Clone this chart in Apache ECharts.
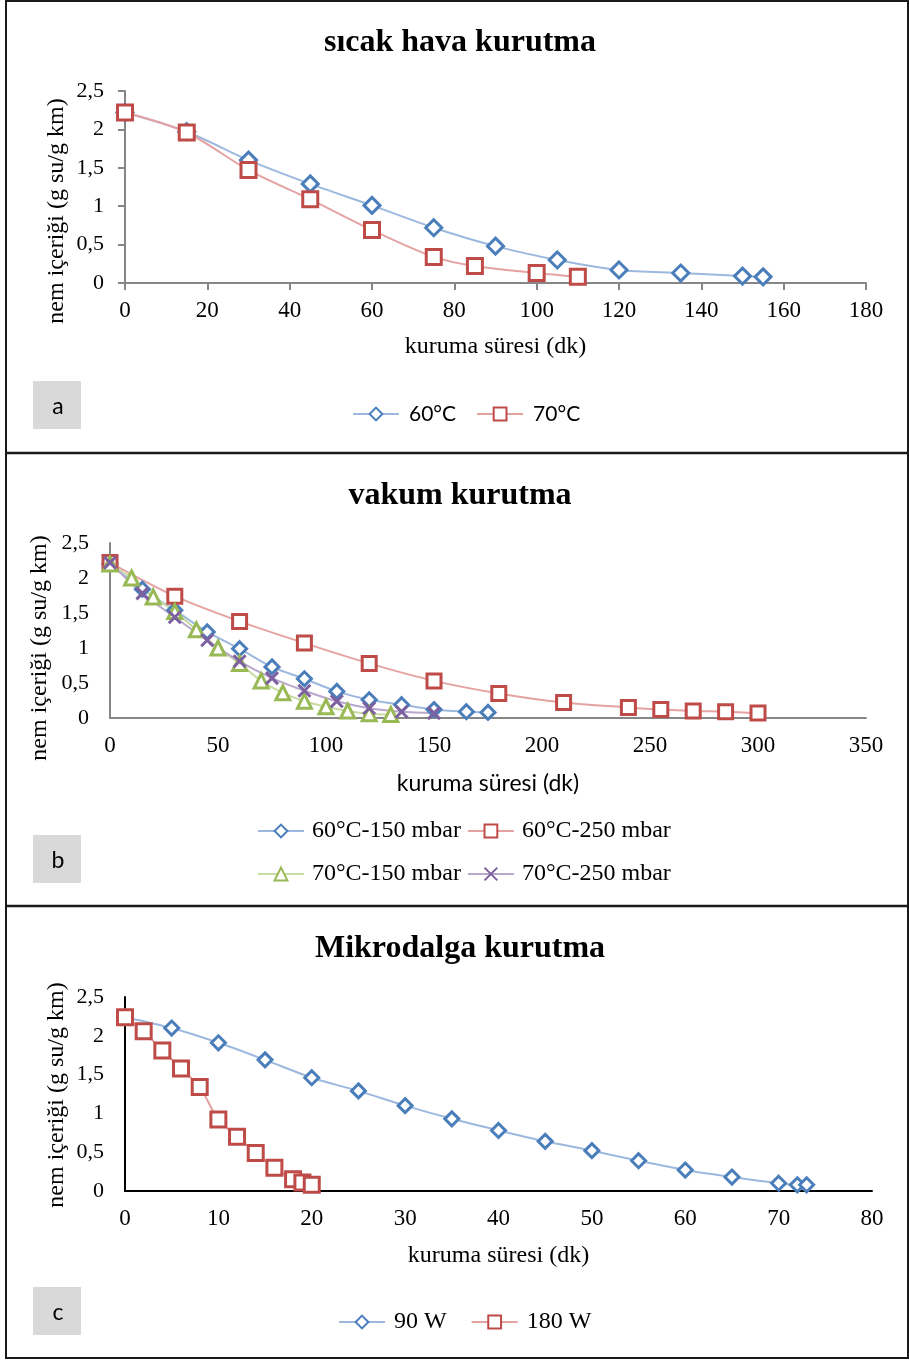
<!DOCTYPE html>
<html>
<head>
<meta charset="utf-8">
<script src="https://cdn.jsdelivr.net/npm/echarts@6/dist/echarts.min.js"></script>
<style>
html,body{margin:0;padding:0;background:#fff;}
#c{width:909px;height:1360px;}
</style>
</head>
<body>
<div id="c"></div>
<script>
// ---- Data ----
const titles = ['sıcak hava kurutma', 'vakum kurutma', 'Mikrodalga kurutma'];
const panelLetters = ['a', 'b', 'c'];
const xName = 'kuruma süresi (dk)';
const yName = 'nem içeriği (g su/g km)';

// Panel a: sıcak hava
const aX60 = [0, 15, 30, 45, 60, 75, 90, 105, 120, 135, 150, 155];
const aY60 = [2.22, 1.97, 1.60, 1.29, 1.01, 0.72, 0.48, 0.30, 0.17, 0.13, 0.09, 0.08];
const aX70 = [0, 15, 30, 45, 60, 75, 85, 100, 110];
const aY70 = [2.22, 1.96, 1.47, 1.09, 0.69, 0.34, 0.22, 0.13, 0.08];

// Panel b: vakum
const bX60_150 = [0, 15, 30, 45, 60, 75, 90, 105, 120, 135, 150, 165, 175];
const bY60_150 = [2.20, 1.84, 1.54, 1.23, 0.99, 0.73, 0.56, 0.38, 0.26, 0.19, 0.12, 0.09, 0.08];
const bX60_250 = [0, 30, 60, 90, 120, 150, 180, 210, 240, 255, 270, 285, 300];
const bY60_250 = [2.22, 1.74, 1.38, 1.07, 0.78, 0.53, 0.35, 0.22, 0.15, 0.12, 0.10, 0.09, 0.07];
const bX70_150 = [0, 10, 20, 30, 40, 50, 60, 70, 80, 90, 100, 110, 120, 130];
const bY70_150 = [2.20, 2.00, 1.73, 1.52, 1.26, 1.00, 0.78, 0.53, 0.36, 0.24, 0.16, 0.10, 0.06, 0.05];
const bX70_250 = [0, 15, 30, 45, 60, 75, 90, 105, 120, 135, 150];
const bY70_250 = [2.22, 1.78, 1.44, 1.11, 0.81, 0.57, 0.39, 0.24, 0.14, 0.09, 0.07];

// Panel c: mikrodalga
const cX90 = [0, 5, 10, 15, 20, 25, 30, 35, 40, 45, 50, 55, 60, 65, 70, 72, 73];
const cY90 = [2.24, 2.10, 1.91, 1.69, 1.46, 1.29, 1.10, 0.93, 0.78, 0.64, 0.52, 0.39, 0.27, 0.18, 0.10, 0.08, 0.08];
const cX180 = [0, 2, 4, 6, 8, 10, 12, 14, 16, 18, 19, 20];
const cY180 = [2.24, 2.06, 1.81, 1.58, 1.34, 0.92, 0.70, 0.49, 0.30, 0.15, 0.11, 0.08];

const xMax = [180, 350, 80];
const xStep = [20, 50, 10];
const yMax = 2.5, yStep = 0.5;

// ---- Styles ----
const SERIF = '"Liberation Serif", "DejaVu Serif", serif';
const SANS = 'Lato, "Open Sans", sans-serif';
const C = {
  blue: {line: '#9DB8DF', mark: '#4A7EBB'},
  red: {line: '#E4A3A2', mark: '#BE4B48'},
  green: {line: '#C8DBA2', mark: '#98B954'},
  purple: {line: '#B8A8CE', mark: '#7D60A0'}
};
const XPATH = 'path://M2,2L18,18M18,2L2,18';

function zip(xs, ys) { return xs.map((x, i) => [x, ys[i]]); }
function ser(name, xs, ys, idx, col, symbol, size) {
  return {
    name: name, type: 'line', xAxisIndex: idx, yAxisIndex: idx,
    data: zip(xs, ys), smooth: 0.3,
    symbol: symbol, symbolSize: size, showAllSymbol: true,
    lineStyle: {color: col.line, width: 2},
    itemStyle: {color: '#fff', borderColor: col.mark, borderWidth: 3},
    emphasis: {disabled: true}, animation: false, z: 2
  };
}

const grids = [
  {left: 125, right: 43, top: 91, height: 192},
  {left: 110, right: 43, top: 543, height: 175},
  {left: 125, right: 37, top: 997, height: 194}
].map(g => Object.assign({outerBoundsMode: 'none', containLabel: false}, g));

const axisCol = ['#868686', '#868686', '#000000'];
const xAxes = [0, 1, 2].map(i => ({
  type: 'value', gridIndex: i, min: 0, max: xMax[i], interval: xStep[i],
  name: xName, nameLocation: 'middle', nameGap: [52, 54, 53][i],
  nameTextStyle: {fontFamily: i === 1 ? SANS : SERIF, fontSize: i === 1 ? 23 : 24, color: '#000'},
  axisLine: {show: true, lineStyle: {color: axisCol[i], width: 2}},
  axisTick: {show: i === 0, length: 7, lineStyle: {color: axisCol[i], width: 2}},
  splitLine: {show: false},
  axisLabel: {margin: 16, fontFamily: SERIF, fontSize: 23, color: '#000'}
}));
const yAxes = [0, 1, 2].map(i => ({
  type: 'value', gridIndex: i, min: 0, max: yMax, interval: yStep,
  axisLine: {show: true, lineStyle: {color: axisCol[i], width: 2}},
  axisTick: {show: i === 0, length: 7, lineStyle: {color: axisCol[i], width: 2}},
  splitLine: {show: false},
  axisLabel: {margin: 21, fontFamily: SERIF, fontSize: 22, color: '#000',
    formatter: v => String(v).replace('.', ',')}
}));

const series = [
  ser('60°C', aX60, aY60, 0, C.blue, 'diamond', 16),
  ser('70°C', aX70, aY70, 0, C.red, 'rect', 15),
  ser('60°C-150 mbar', bX60_150, bY60_150, 1, C.blue, 'diamond', 14),
  ser('60°C-250 mbar', bX60_250, bY60_250, 1, C.red, 'rect', 14),
  ser('70°C-150 mbar', bX70_150, bY70_150, 1, C.green, 'triangle', 14),
  ser('70°C-250 mbar', bX70_250, bY70_250, 1, C.purple, XPATH, 12),
  ser('90 W', cX90, cY90, 2, C.blue, 'diamond', 14),
  ser('180 W', cX180, cY180, 2, C.red, 'rect', 15)
];

function legend(names, left, top, font, fs, gap, textPad) {
  return {
    data: names, left: left, top: top, orient: 'horizontal', padding: 0,
    itemWidth: 46, itemHeight: 16, itemGap: gap,
    selectedMode: false,
    textStyle: {fontFamily: font, fontSize: fs, lineHeight: 24, color: '#000', padding: [0, 0, 0, textPad]}
  };
}

const titleTops = [27, 480, 933];
const titleComps = titles.map((t, i) => ({
  text: t, left: 460, textAlign: 'center', top: titleTops[i], padding: 0,
  textStyle: {fontFamily: SERIF, fontSize: 32, fontWeight: 'bold', color: '#000'}
}));

const boxTops = [381, 835, 1287];
const yNameCenters = [[57, 211], [40, 648], [57, 1095]];
const graphics = [];
graphics.push({type: 'rect', shape: {x: 6, y: 1, width: 902, height: 1357},
  style: {fill: 'none', stroke: '#1a1a1a', lineWidth: 2}, silent: true});
[453, 906].forEach(y => graphics.push({type: 'line', shape: {x1: 6, y1: y, x2: 909, y2: y},
  style: {stroke: '#1a1a1a', lineWidth: 2.5}, silent: true}));
boxTops.forEach((y, i) => {
  graphics.push({type: 'rect', shape: {x: 33, y: y, width: 48, height: 48},
    style: {fill: '#D9D9D9'}, silent: true});
  graphics.push({type: 'text', x: 58, y: y + 26,
    style: {text: panelLetters[i], font: '23px ' + SANS, fill: '#000', align: 'center', verticalAlign: 'middle'}, silent: true});
});
yNameCenters.forEach(([x, y]) => {
  graphics.push({type: 'text', x: x, y: y, rotation: Math.PI / 2,
    style: {text: yName, font: '24px ' + SERIF, fill: '#000', align: 'center', verticalAlign: 'middle'}, silent: true});
});

const option = {
  backgroundColor: '#fff',
  animation: false,
  title: titleComps,
  grid: grids,
  xAxis: xAxes,
  yAxis: yAxes,
  legend: [
    legend(['60°C', '70°C'], 352, 402, SANS, 21, 20, 5),
    legend(['60°C-150 mbar', '60°C-250 mbar'], 257, 819, SERIF, 24, 6, 3),
    legend(['70°C-150 mbar', '70°C-250 mbar'], 257, 862, SERIF, 24, 6, 3),
    legend(['90 W', '180 W'], 338, 1310, SERIF, 24, 24, 4)
  ],
  series: series,
  graphic: graphics
};

const chart = echarts.init(document.getElementById('c'), null, {renderer: 'canvas'});
chart.setOption(option);
</script>
</body>
</html>
